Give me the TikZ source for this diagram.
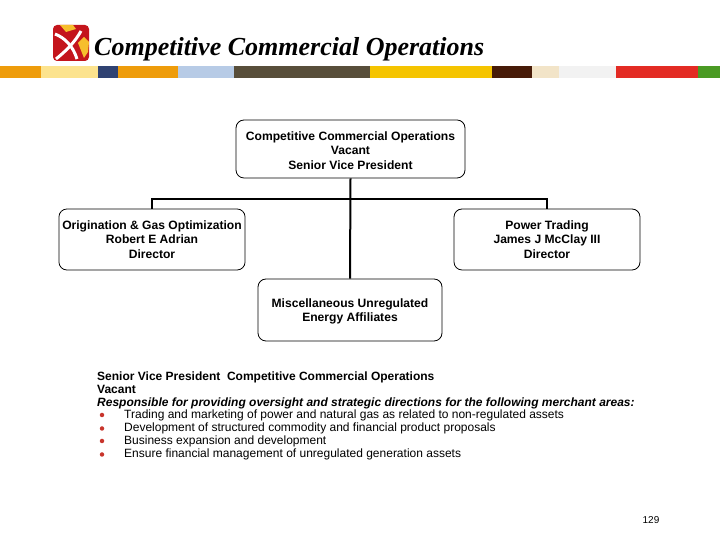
\documentclass[tikz,border=0pt]{standalone}
\usepackage{fontspec}
\setmainfont{Liberation Sans}
\newfontfamily\titlefont{Liberation Serif}
\usetikzlibrary{positioning}
\definecolor{barorange}{HTML}{EE9C0B}
\definecolor{baryellow}{HTML}{FCE38E}
\definecolor{barnavy}{HTML}{2F4272}
\definecolor{barblue}{HTML}{B7CBE6}
\definecolor{barolive}{HTML}{584E3A}
\definecolor{bargold}{HTML}{F5C400}
\definecolor{barbrown}{HTML}{471B08}
\definecolor{barcream}{HTML}{F2E4C8}
\definecolor{barwhite}{HTML}{F2F2F2}
\definecolor{barred}{HTML}{E32B24}
\definecolor{bargreen}{HTML}{4A9A24}
\definecolor{logored}{HTML}{C4151C}
\definecolor{logoyellow}{HTML}{F6BE2C}
\definecolor{dotred}{HTML}{C8352C}
\tikzset{
  orgbox/.style={draw,rounded corners=8pt,line width=0.8pt,align=center,font=\fontsize{12.1}{14.2}\selectfont\bfseries},
  orgline/.style={line width=2pt},
  bodyline/.style={anchor=west,inner sep=0pt,font=\fontsize{12}{13}\selectfont},
  bulletdot/.style={circle,fill=dotred,inner sep=0pt,minimum size=4.5pt},
}
\begin{document}
\begin{tikzpicture}[x=1pt,y=1pt]
\useasboundingbox (0,0) rectangle (720,540);

% Colour bar under the title
\foreach \xa/\xb/\barcol in {0/41/barorange,41/98/baryellow,98/118/barnavy,118/178/barorange,178/234/barblue,234/370/barolive,370/492/bargold,492/532/barbrown,532/559/barcream,559/616/barwhite,616/698/barred,698/720/bargreen} {
    \fill[\barcol] (\xa,462) rectangle (\xb,474);
}

% Logo
\fill[logored,rounded corners=4pt] (53,479) rectangle (89,515);
\fill[logoyellow] (60,515) -- (73,515) -- (76,511) -- (66,508) -- cycle;
\fill[logoyellow] (78,497) -- (84,503) -- (89,498) -- (88,488) -- (84,482) -- cycle;
\draw[white,line width=3pt] (56,481) .. controls (66,489) and (75,498) .. (81,509);
\draw[white,line width=3pt] (55,506) .. controls (65,502) and (73,494) .. (77,481);

% Title
\node[anchor=west,inner sep=0pt,font=\fontsize{26}{28}\selectfont\titlefont\itshape\bfseries] (title) at (94,490.5) {Competitive Commercial Operations};

% Boxes
\node[orgbox,minimum width=229pt,minimum height=58pt] (vp) at (350.5,391) {\rule{0pt}{12pt}Competitive Commercial Operations\\Vacant\\Senior Vice President};
\node[orgbox,minimum width=186pt,minimum height=61pt] (orig) at (152,300.5) {Origination \& Gas Optimization\\Robert E Adrian\\Director};
\node[orgbox,minimum width=186pt,minimum height=61pt] (power) at (547,300.5) {Power Trading\\James J McClay III\\Director};
\node[orgbox,minimum width=184pt,minimum height=62pt] (misc) at (350,230) {\rule{0pt}{11pt}Miscellaneous Unregulated\\Energy Affiliates};

% Connectors
\coordinate (bus) at (350,340.5);
\draw[orgline] (vp.south) -- (misc.north);
\draw[orgline] (orig.north) |- (bus) -| (power.north);

% Description below the chart
\node[bodyline,font=\fontsize{12}{13}\selectfont\bfseries] (head) at (97,162.5) {Senior Vice President\ \ Competitive Commercial Operations};
\node[bodyline,font=\fontsize{12}{13}\selectfont\bfseries] (vacant) at (97,151) {Vacant};
\node[bodyline,font=\fontsize{12}{13}\selectfont\bfseries\itshape] (resp) at (97,137) {Responsible for providing oversight and strategic directions for the following merchant areas:};
\foreach \i/\ypos/\itemtext in {1/125/Trading and marketing of power and natural gas as related to non-regulated assets,2/111.5/Development of structured commodity and financial product proposals,3/99/Business expansion and development,4/85.5/Ensure financial management of unregulated generation assets} {
    \node[bulletdot] (dot\i) at (102,\ypos) {};
    \node[bodyline] (item\i) at (124,\ypos) {\itemtext};
}

% Page number
\node[inner sep=0pt,font=\fontsize{10}{12}\selectfont] (pagenum) at (651,20) {129};
\end{tikzpicture}
\end{document}
